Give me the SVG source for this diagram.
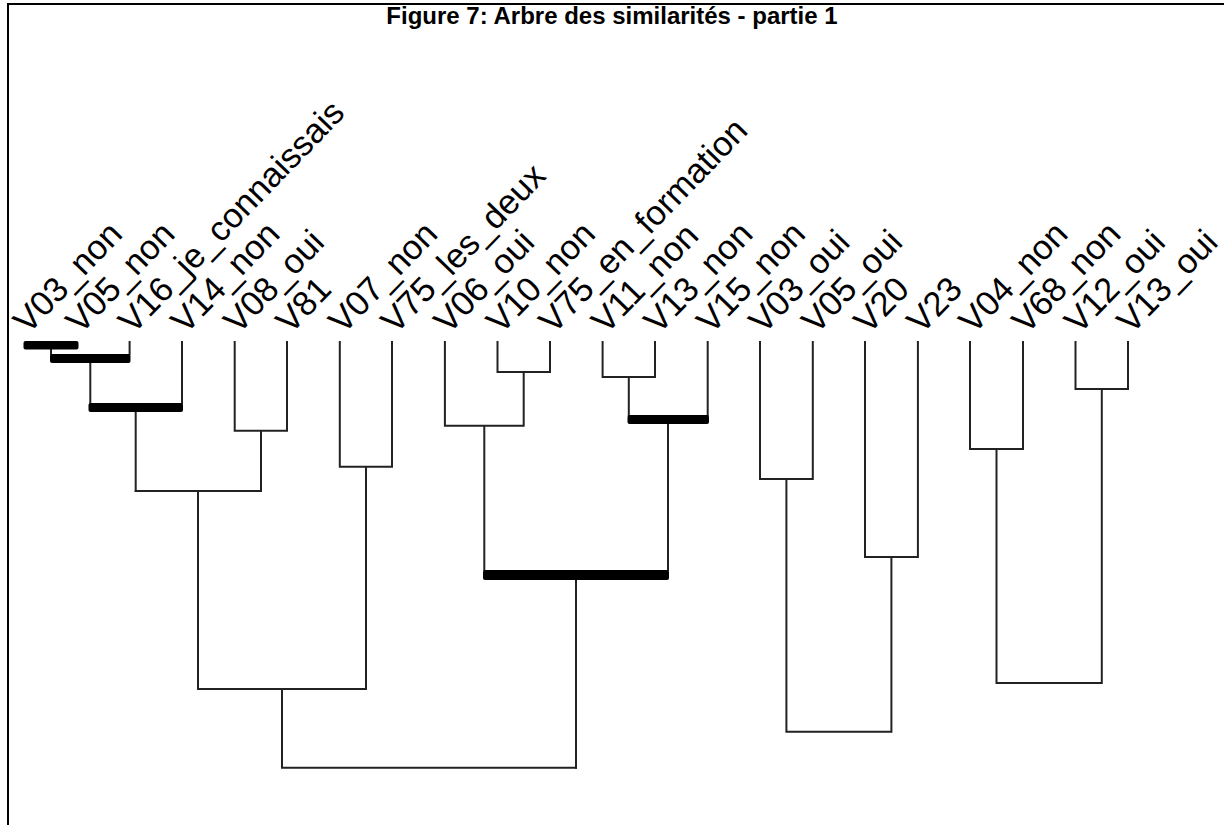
<svg xmlns="http://www.w3.org/2000/svg" width="1224" height="825" viewBox="0 0 1224 825">
  <style>
    .frame { fill: none; stroke: #000; stroke-width: 2; }
    .title { font-family: "Liberation Sans", Arial, sans-serif; font-weight: bold; font-size: 24px; fill: #000; }
    .lbl { font-family: "Liberation Sans", Arial, sans-serif; font-size: 34.5px; fill: #000; }
    .edge { fill: none; stroke: #222; stroke-width: 2; stroke-linecap: square; }
    .strong { fill: #000; }
  </style>
  <rect width="1224" height="825" fill="#fff"/>
  <path class="frame" d="M8 825 V4 H1224"/>
  <text class="title" x="612" y="24" text-anchor="middle">Figure 7: Arbre des similarités - partie 1</text>

  <!-- leaf labels, rotated 46 degrees -->
  <g id="labels">
    <g id="n-v03-non"><text class="lbl" transform="translate(28 335) rotate(-46)">V03_non</text></g>
    <g id="n-v05-non"><text class="lbl" transform="translate(80.5 335) rotate(-46)">V05_non</text></g>
    <g id="n-v16"><text class="lbl" transform="translate(133.1 335) rotate(-46)">V16_je_connaissais</text></g>
    <g id="n-v14-non"><text class="lbl" transform="translate(185.5 335) rotate(-46)">V14_non</text></g>
    <g id="n-v08-oui"><text class="lbl" transform="translate(238.2 335) rotate(-46)">V08_oui</text></g>
    <g id="n-v81"><text class="lbl" transform="translate(290.5 335) rotate(-46)">V81</text></g>
    <g id="n-v07-non"><text class="lbl" transform="translate(343.3 335) rotate(-46)">V07_non</text></g>
    <g id="n-v75-les"><text class="lbl" transform="translate(395.5 335) rotate(-46)">V75_les_deux</text></g>
    <g id="n-v06-oui"><text class="lbl" transform="translate(448.4 335) rotate(-46)">V06_oui</text></g>
    <g id="n-v10-non"><text class="lbl" transform="translate(501 335) rotate(-46)">V10_non</text></g>
    <g id="n-v75-en"><text class="lbl" transform="translate(553.5 335) rotate(-46)">V75_en_formation</text></g>
    <g id="n-v11-non"><text class="lbl" transform="translate(606.1 335) rotate(-46)">V11_non</text></g>
    <g id="n-v13-non"><text class="lbl" transform="translate(658.5 335) rotate(-46)">V13_non</text></g>
    <g id="n-v15-non"><text class="lbl" transform="translate(711.2 335) rotate(-46)">V15_non</text></g>
    <g id="n-v03-oui"><text class="lbl" transform="translate(763.5 335) rotate(-46)">V03_oui</text></g>
    <g id="n-v05-oui"><text class="lbl" transform="translate(816.3 335) rotate(-46)">V05_oui</text></g>
    <g id="n-v20"><text class="lbl" transform="translate(868.5 335) rotate(-46)">V20</text></g>
    <g id="n-v23"><text class="lbl" transform="translate(921.4 335) rotate(-46)">V23</text></g>
    <g id="n-v04-non"><text class="lbl" transform="translate(973.5 335) rotate(-46)">V04_non</text></g>
    <g id="n-v68-non"><text class="lbl" transform="translate(1026.5 335) rotate(-46)">V68_non</text></g>
    <g id="n-v12-oui"><text class="lbl" transform="translate(1079 335) rotate(-46)">V12_oui</text></g>
    <g id="n-v13-oui"><text class="lbl" transform="translate(1131.5 335) rotate(-46)">V13_oui</text></g>
  </g>

  <!-- tree connectors -->
  <g id="connectors">
    <path class="edge" d="M129.6 342 V354 M51 349 V354 M90.3 362 V403 M182 342 V403 M135.7 412 V491"/>
    <path class="edge" d="M234.7 342 V430.7 H287 V342 M261 430.7 V491 M135.7 491 H261"/>
    <path class="edge" d="M339.8 342 V466.7 H392 V342 M366 466.7 V689 M198 491 V689 H366 M282 689 V767.7 H576"/>
    <path class="edge" d="M444.9 342 V425.7 H523.7 M497.5 342 V372 H550 V342 M523.7 372 V425.7 M484.3 425.7 V570"/>
    <path class="edge" d="M602.6 342 V377 H655 V342 M628.8 377 V415 M707.7 342 V415 M668 424 V570 M576 580 V767.7"/>
    <path class="edge" d="M760 342 V479 H812.8 V342 M786.4 479 V731.7 M865 342 V557 H917.9 V342 M891.4 557 V731.7 M786.4 731.7 H891.4"/>
    <path class="edge" d="M970 342 V449 H1023 V342 M996.5 449 V683 M1075.5 342 V389 H1128 V342 M1101.8 389 V683 M996.5 683 H1101.8"/>
    <!-- strong links -->
    <rect class="strong" x="23.5" y="341" width="55" height="8.5" rx="2"/>
    <rect class="strong" x="50" y="354" width="80.5" height="9" rx="2"/>
    <rect class="strong" x="88.5" y="403" width="94.5" height="9" rx="2"/>
    <rect class="strong" x="627.5" y="415" width="81.5" height="9" rx="2"/>
    <rect class="strong" x="483" y="570" width="186" height="10" rx="2"/>
  </g>
</svg>
